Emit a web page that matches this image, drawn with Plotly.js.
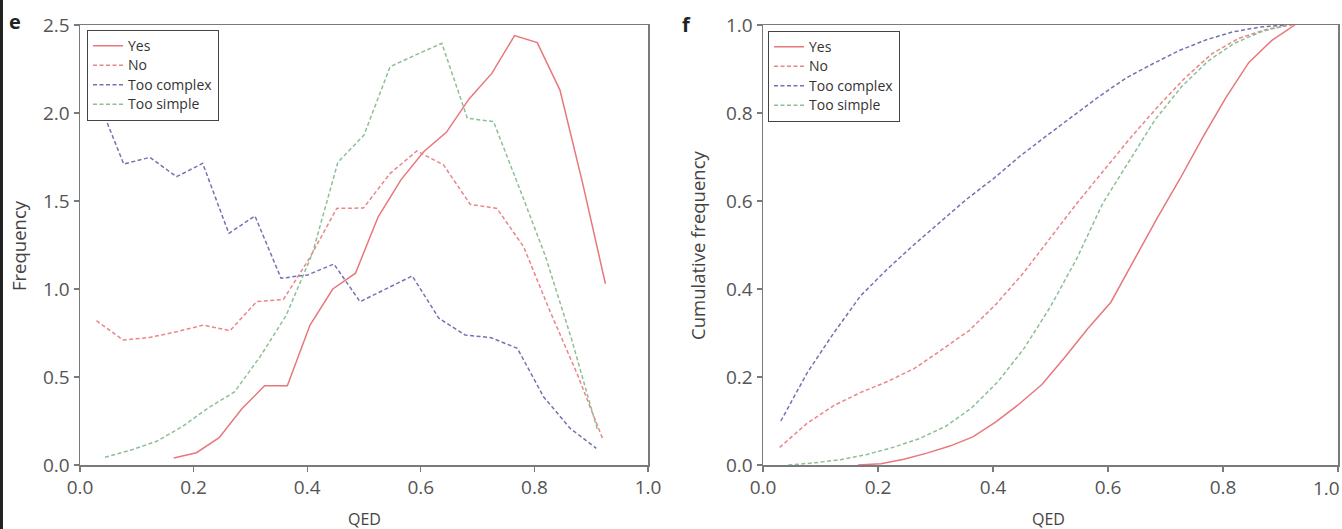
<!DOCTYPE html>
<html>
<head>
<meta charset="utf-8">
<script src="https://cdn.plot.ly/plotly-3.0.1.min.js"></script>
<style>html,body{margin:0;padding:0;background:#fff;}#chart{width:1342px;height:529px;}</style>
</head>
<body>
<div id="chart"></div>
<script>
// ---- Data ----
const seriesNames = ["Yes", "No", "Too complex", "Too simple"];

const qedYes = [0.165,0.205,0.245,0.285,0.325,0.365,0.405,0.445,0.485,0.525,0.565,0.605,0.645,0.685,0.725,0.765,0.805,0.845,0.885,0.925];
const freqYes = [0.04,0.07,0.155,0.32,0.45,0.45,0.795,1.0,1.09,1.41,1.62,1.78,1.89,2.08,2.225,2.44,2.40,2.13,1.6,1.03];
const cumYes = [0.0,0.003,0.013,0.027,0.043,0.064,0.098,0.138,0.183,0.245,0.31,0.37,0.465,0.56,0.65,0.745,0.835,0.915,0.965,1.0];

const qedNo = [0.029,0.076,0.123,0.170,0.217,0.264,0.311,0.358,0.405,0.452,0.499,0.546,0.593,0.640,0.687,0.734,0.781,0.828,0.875,0.920];
const freqNo = [0.82,0.71,0.725,0.757,0.795,0.763,0.928,0.94,1.18,1.458,1.46,1.657,1.784,1.705,1.481,1.458,1.24,0.87,0.52,0.15];
const cumNo = [0.04,0.094,0.135,0.165,0.19,0.22,0.262,0.305,0.365,0.435,0.515,0.595,0.67,0.745,0.815,0.88,0.935,0.97,0.99,1.0];

const qedComplex = [0.031,0.077,0.123,0.170,0.216,0.262,0.308,0.354,0.401,0.447,0.493,0.539,0.585,0.632,0.678,0.724,0.770,0.816,0.863,0.909];
const freqComplex = [2.08,1.71,1.748,1.638,1.714,1.316,1.415,1.061,1.08,1.142,0.928,1.0,1.074,0.833,0.739,0.723,0.663,0.388,0.208,0.095];
const cumComplex = [0.10,0.21,0.30,0.385,0.445,0.50,0.552,0.604,0.651,0.702,0.748,0.792,0.838,0.88,0.912,0.942,0.966,0.984,0.995,1.0];

const qedSimple = [0.044,0.090,0.135,0.181,0.226,0.272,0.318,0.363,0.409,0.454,0.500,0.546,0.591,0.637,0.682,0.728,0.774,0.819,0.865,0.911];
const freqSimple = [0.044,0.085,0.135,0.22,0.325,0.415,0.62,0.85,1.2,1.72,1.875,2.263,2.33,2.396,1.97,1.951,1.57,1.19,0.72,0.2];
const cumSimple = [0.0,0.005,0.012,0.024,0.04,0.06,0.088,0.13,0.19,0.265,0.36,0.47,0.595,0.69,0.785,0.86,0.918,0.958,0.984,1.0];

const xTickVals = [0, 0.2, 0.4, 0.6, 0.8, 1.0];
const xTickText = ["0.0", "0.2", "0.4", "0.6", "0.8", "1.0"];
// right panel: last label sits at the page edge, drawn as a right-aligned note so it stays whole
const xTickText2 = ["0.0", "0.2", "0.4", "0.6", "0.8", ""];
const yTickValsFreq = [0, 0.5, 1.0, 1.5, 2.0, 2.5];
const yTickValsCum = [0, 0.2, 0.4, 0.6, 0.8, 1.0];

// ---- Styles ----
const colors = ["#e8777c", "#ea8589", "#7373b3", "#8dbf95"];
const dashes = ["solid", "4px,2.5px", "4px,2.5px", "4px,2.5px"];
const xs = [qedYes, qedNo, qedComplex, qedSimple];
const freqs = [freqYes, freqNo, freqComplex, freqSimple];
const cums = [cumYes, cumNo, cumComplex, cumSimple];
// legend text drawn a bit larger while rows keep the reference's tight spacing
const legendLabel = n => '<span style="font-size:14px">' + n + '</span>';

const traces = [];
for (let i = 0; i < 4; i++) {
  traces.push({
    x: xs[i], y: freqs[i], type: "scatter", mode: "lines", name: legendLabel(seriesNames[i]),
    line: {color: colors[i], width: 1.5, dash: dashes[i]},
    xaxis: "x", yaxis: "y", legend: "legend", hoverinfo: "skip"
  });
}
for (let i = 0; i < 4; i++) {
  traces.push({
    x: xs[i], y: cums[i], type: "scatter", mode: "lines", name: legendLabel(seriesNames[i]),
    line: {color: colors[i], width: 1.5, dash: dashes[i]},
    xaxis: "x2", yaxis: "y2", legend: "legend2", hoverinfo: "skip"
  });
}

const W = 1342, H = 529;
const mL = 80, mR = 4, mT = 25, mB = 64;
const pw = W - mL - mR;
const px = v => (v - mL) / pw;
const ph = H - mT - mB;
const py = v => 1 - (v - mT) / ph;

const FONT = "Open Sans, Noto Sans, sans-serif";
const tickFont = {family: FONT, size: 19, color: "#555"};
const axisCommon = {
  showgrid: false, zeroline: false, showline: true, linecolor: "#7a7a7a", linewidth: 1.5,
  mirror: true, ticks: "outside", ticklen: 5, tickwidth: 1.2, tickcolor: "#7a7a7a",
  tickfont: tickFont, tickformat: ".1f", fixedrange: true
};

const legendCommon = {
  bgcolor: "#ffffff", bordercolor: "#444", borderwidth: 1,
  font: {family: FONT, size: 12.7, color: "#333"},
  xanchor: "left", yanchor: "top", tracegroupgap: 0, itemwidth: 30
};

const layout = {
  width: W, height: H,
  margin: {l: mL, r: mR, t: mT, b: mB, pad: 0},
  paper_bgcolor: "#ffffff", plot_bgcolor: "#ffffff",
  showlegend: true,
  xaxis: Object.assign({}, axisCommon, {domain: [0, px(648)], range: [0, 1], tickvals: xTickVals, ticktext: xTickText, anchor: "y"}),
  yaxis: Object.assign({}, axisCommon, {domain: [0, 1], range: [0, 2.5], tickvals: yTickValsFreq, anchor: "x"}),
  xaxis2: Object.assign({}, axisCommon, {domain: [px(763), 1], range: [0, 1], tickvals: xTickVals, ticktext: xTickText2, anchor: "y2"}),
  yaxis2: Object.assign({}, axisCommon, {domain: [0, 1], range: [0, 1], tickvals: yTickValsCum, anchor: "x2"}),
  legend: Object.assign({}, legendCommon, {x: px(87), y: py(30)}),
  legend2: Object.assign({}, legendCommon, {x: px(768), y: py(31)}),
  annotations: [
    {text: xTickText[5], xref: "x2", yref: "paper", x: 1.0, y: py(488), showarrow: false,
     font: tickFont, xanchor: "right", yanchor: "middle", xshift: 4},
    {text: "<b>e</b>", xref: "paper", yref: "paper", x: px(15), y: py(22), showarrow: false,
     font: {family: FONT, size: 20, color: "#222"}, xanchor: "center", yanchor: "middle"},
    {text: "<b>f</b>", xref: "paper", yref: "paper", x: px(686), y: py(24), showarrow: false,
     font: {family: FONT, size: 20, color: "#222"}, xanchor: "center", yanchor: "middle"},
    {text: "QED", xref: "paper", yref: "paper", x: px(364), y: py(519), showarrow: false,
     font: {family: FONT, size: 16, color: "#444"}, xanchor: "center", yanchor: "middle"},
    {text: "QED", xref: "paper", yref: "paper", x: px(1048), y: py(519), showarrow: false,
     font: {family: FONT, size: 16, color: "#444"}, xanchor: "center", yanchor: "middle"},
    {text: "Frequency", xref: "paper", yref: "paper", x: px(18), y: py(246), showarrow: false, textangle: -90,
     font: {family: FONT, size: 18.5, color: "#444"}, xanchor: "center", yanchor: "middle"},
    {text: "Cumulative frequency", xref: "paper", yref: "paper", x: px(697), y: py(245), showarrow: false, textangle: -90,
     font: {family: FONT, size: 18.5, color: "#444"}, xanchor: "center", yanchor: "middle"}
  ],
  shapes: [
    {type: "rect", xref: "paper", yref: "paper", x0: px(0), x1: px(3), y0: py(H), y1: py(0),
     fillcolor: "#222", line: {width: 0}, layer: "above"}
  ]
};

Plotly.newPlot("chart", traces, layout, {staticPlot: true, displayModeBar: false});
</script>
</body>
</html>
